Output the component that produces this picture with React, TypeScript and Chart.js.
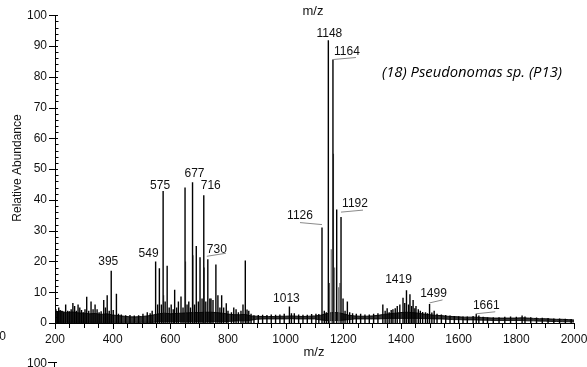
import React, { useEffect, useRef } from "react";
import { Chart, registerables } from "chart.js";

Chart.register(...registerables);

// ---------- data ----------
const noiseMz = [
  200, 220, 240, 260, 280, 300, 320, 340, 360, 380, 400, 420, 440, 460, 480, 500, 520, 540,
  560, 580, 600, 620, 640, 660, 680, 700, 720, 740, 760, 780, 800, 820, 840, 860, 880,
  900, 920, 940, 960, 980, 1000, 1020, 1040, 1060, 1080, 1100,
  1120, 1140, 1160, 1180, 1200, 1220, 1240,
  1260, 1280, 1300, 1320, 1340, 1360, 1380, 1400, 1420, 1440, 1460, 1480, 1500, 1520, 1540,
  1560, 1580, 1600, 1620, 1640, 1660, 1680, 1700,
  1720, 1740, 1760, 1780, 1800, 1820, 1840, 1860, 1880, 1900, 1920, 1940, 1960, 1980, 2000,
];
const noiseHigh = [
  3.6, 3.8, 3.4, 3.6, 3.3, 3.2, 3.0, 3.1, 2.8, 3.0, 2.6, 2.4, 2.2, 2.0, 2.0, 2.1, 2.3, 2.6,
  3.0, 3.2, 3.0, 3.1, 3.2, 3.3, 3.4, 3.4, 3.5, 3.5, 3.4, 3.2, 2.9, 2.7, 2.7, 2.8, 2.3,
  2.2, 2.1, 2.1, 2.1, 2.2, 2.2, 2.3, 2.2, 2.1, 2.2, 2.3,
  2.5, 3.0, 3.4, 3.4, 3.0, 2.5, 2.3,
  2.2, 2.2, 2.3, 2.5, 2.8, 3.0, 3.2, 3.4, 3.5, 3.4, 3.2, 2.9, 2.7, 2.5, 2.4,
  2.2, 2.1, 2.0, 1.9, 1.9, 1.9, 1.8, 1.7,
  1.6, 1.6, 1.6, 1.6, 1.6, 1.7, 1.6, 1.5, 1.4, 1.4, 1.3, 1.2, 1.2, 1.1, 1.0,
];
const noiseLow = [
  0.2, 0.2, 0.2, 0.2, 0.2, 0.2, 0.2, 0.2, 0.2, 0.2, 0.2, 0.2, 0.2, 0.2, 0.2, 0.2, 0.2, 0.2,
  0.4, 0.4, 0.4, 0.4, 0.4, 0.4, 0.4, 0.4, 0.4, 0.4, 0.4, 0.4, 0.5, 0.6, 0.7, 0.7, 0.9,
  1.2, 1.3, 1.3, 1.3, 1.3, 1.3, 1.4, 1.3, 1.3, 1.3, 1.3,
  1.0, 0.8, 0.8, 0.8, 0.9, 1.1, 1.3,
  1.3, 1.3, 1.3, 1.3, 1.4, 1.5, 1.5, 1.5, 1.5, 1.5, 1.5, 1.4, 1.4, 1.3, 1.3,
  1.2, 1.1, 1.1, 1.0, 1.0, 1.0, 0.9, 0.9,
  0.8, 0.8, 0.8, 0.8, 0.8, 0.8, 0.7, 0.7, 0.6, 0.6, 0.5, 0.5, 0.4, 0.4, 0.3,
];

const peakMz = [
  203, 208, 213, 218, 224, 230, 237, 244, 250, 256, 262, 268, 274, 280, 286, 292, 298, 304,
  310, 317, 325, 332, 339, 346, 353, 360, 369, 375, 381, 388, 395, 402, 413, 420, 430, 445,
  460, 475, 490, 505, 520, 530, 537,
  549, 556, 562, 569, 575, 582, 589, 596, 603, 610, 615, 622, 628, 637, 644, 651, 658, 664,
  670, 677, 684, 690, 697, 703, 710, 716, 723, 730, 737, 741, 748, 758, 765, 772, 778, 785,
  794, 800, 812, 820, 828, 836, 845, 852, 860, 866, 872, 880, 890,
  905, 920, 935, 950, 965, 980, 995, 1013, 1020, 1030, 1045, 1060, 1075, 1090, 1105, 1115,
  1126, 1134, 1141, 1148, 1164, 1177, 1192, 1199, 1206, 1214, 1222, 1232, 1245, 1260, 1275,
  1290, 1305, 1320, 1337, 1345, 1352, 1359, 1366, 1372, 1380, 1387, 1396, 1407, 1413, 1419,
  1426, 1431, 1437, 1442, 1448, 1452, 1460, 1467, 1475, 1485, 1492, 1499, 1507, 1515, 1525,
  1540, 1555, 1570, 1585, 1600, 1615, 1630, 1650, 1661, 1670, 1685, 1700, 1720, 1740, 1760,
  1780, 1800, 1820, 1830, 1850, 1870, 1890, 1910, 1930, 1950, 1970, 1990,
];
const peakIntensity = [
  4.5, 3.8, 5.0, 4.2, 4.0, 3.5, 6.0, 4.0, 3.8, 4.5, 6.5, 5.5, 4.0, 6.0, 5.0, 4.2, 3.5, 4.5,
  8.5, 4.0, 7.0, 4.5, 6.0, 4.5, 3.5, 3.8, 7.5, 5.0, 9.0, 4.0, 17.0, 4.2, 9.5, 3.0, 2.8, 2.5,
  2.6, 2.4, 2.5, 3.0, 3.5, 3.2, 4.0,
  20.0, 6.0, 17.8, 6.0, 42.9, 7.0, 18.6, 5.0, 6.0, 4.5, 10.8, 5.0, 7.0, 8.6, 5.0, 44.0, 6.0, 7.0,
  5.0, 45.7, 6.0, 25.0, 7.0, 21.4, 8.0, 41.5, 7.0, 20.7, 8.0, 8.0, 7.5, 19.0, 9.0, 5.0, 9.0, 5.0,
  6.4, 4.0, 3.5, 5.0, 4.5, 3.5, 4.0, 6.0, 20.3, 4.4, 4.0, 3.0, 2.5,
  2.6, 2.7, 2.6, 2.8, 2.7, 2.8, 3.0, 5.4, 3.2, 3.2, 2.8, 2.7, 2.7, 2.9, 3.0, 2.9,
  31.0, 4.0, 3.5, 91.9, 85.6, 36.9, 34.4, 8.0, 4.0, 7.0, 3.5, 3.2, 3.0, 3.0, 2.8,
  2.8, 3.0, 3.2, 6.0, 4.0, 4.8, 3.5, 4.2, 4.5, 4.8, 5.5, 6.0, 8.2, 6.5, 10.6,
  6.0, 9.3, 5.5, 7.5, 4.8, 5.5, 4.5, 4.0, 3.6, 3.5, 3.2, 6.2, 3.4, 4.0, 3.0,
  2.8, 2.6, 2.4, 2.3, 2.2, 2.1, 2.1, 2.3, 3.0, 2.4, 2.0, 1.9, 1.9, 1.9, 2.0,
  2.1, 2.0, 2.4, 2.1, 1.9, 1.8, 1.7, 1.6, 1.5, 1.5, 1.4, 1.3,
];

// lower, overlapping components (drawn grey)
const shoulderMz = [577, 653, 679, 718, 1152, 1158, 1166, 1170, 1184, 1188];
const shoulderIntensity = [9, 20, 22, 18, 13, 24, 55, 18, 11.6, 13];

const labelMz = [395, 549, 575, 677, 716, 730, 1013, 1126, 1148, 1164, 1192, 1419, 1499, 1661];

const xTickValues = [200, 400, 600, 800, 1000, 1200, 1400, 1600, 1800, 2000];
const yTickValues = [0, 10, 20, 30, 40, 50, 60, 70, 80, 90, 100];

const titleText = "(18) Pseudonomas sp. (P13)";
const yAxisTitle = "Relative Abundance";
const xAxisTitle = "m/z";

// ---------- styles / label placement (pixel offsets from peak top) ----------
const labelPlacement: Record<number, { dx: number; dy: number; leader?: number[] }> = {
  395: { dx: -3, dy: -9 },
  549: { dx: -7, dy: -8 },
  575: { dx: -3, dy: -5 },
  677: { dx: 2, dy: -9 },
  716: { dx: 7, dy: -10 },
  730: { dx: 9, dy: -10, leader: [-1, -3, 18, -6] },
  1013: { dx: -3, dy: -8 },
  1126: { dx: -22, dy: -12, leader: [-22, -5, 0, -3] },
  1148: { dx: 1, dy: -6 },
  1164: { dx: 14, dy: -8, leader: [0, 0, 23, -2] },
  1192: { dx: 14, dy: -13, leader: [0, -5, 22, -7] },
  1419: { dx: -8, dy: -11 },
  1499: { dx: 4, dy: -10, leader: [0, -1, 13, -4] },
  1661: { dx: 10, dy: -8, leader: [0, 0, 19, -2] },
};

const SANS = '"Liberation Sans", Arial, Helvetica, sans-serif';

const decorPlugin = {
  id: "decor",
  afterDraw(chart: any) {
    const { ctx, scales } = chart;
    const xs = scales.x;
    const ys = scales.y;
    const left = chart.chartArea.left;
    const bottom = chart.chartArea.bottom;
    ctx.save();
    ctx.strokeStyle = "#000";
    ctx.lineWidth = 1;
    // y ticks
    for (let v = 0; v <= 100; v += 2) {
      const py = Math.round(ys.getPixelForValue(v)) + 0.5;
      ctx.beginPath();
      if (v % 10 === 0) {
        ctx.moveTo(left - 6, py);
        ctx.lineTo(left + 3, py);
      } else {
        ctx.moveTo(left, py);
        ctx.lineTo(left + 3.5, py);
      }
      ctx.stroke();
    }
    // x ticks
    for (let v = 200; v <= 2000; v += 50) {
      const px = Math.round(xs.getPixelForValue(v)) + 0.5;
      ctx.beginPath();
      ctx.moveTo(px, bottom);
      ctx.lineTo(px, bottom + (v % 200 === 0 ? 6 : 5));
      ctx.stroke();
    }

    // peak labels
    ctx.font = `12px ${SANS}`;
    ctx.fillStyle = "#111";
    ctx.textAlign = "center";
    ctx.textBaseline = "middle";
    labelMz.forEach((m) => {
      const i = peakMz.indexOf(m);
      const px = xs.getPixelForValue(m);
      const py = ys.getPixelForValue(peakIntensity[i]);
      const s = labelPlacement[m];
      if (s.leader) {
        ctx.strokeStyle = "#8a8a8a";
        ctx.lineWidth = 1;
        ctx.beginPath();
        ctx.moveTo(px + s.leader[0], py + s.leader[1]);
        ctx.lineTo(px + s.leader[2], py + s.leader[3]);
        ctx.stroke();
      }
      ctx.fillText(String(m), px + s.dx, py + s.dy);
    });

    // axis titles
    ctx.font = `13px ${SANS}`;
    ctx.fillStyle = "#111";
    ctx.fillText(xAxisTitle, 314, 352);
    ctx.fillText(xAxisTitle, 313, 11);
    ctx.save();
    ctx.translate(18, 168);
    ctx.rotate(-Math.PI / 2);
    ctx.font = `12px ${SANS}`;
    ctx.fillText(yAxisTitle, 0, 0);
    ctx.restore();

    // neighbouring panel fragments
    ctx.font = `12px ${SANS}`;
    ctx.textAlign = "right";
    ctx.fillText("2000", 6, 337);
    ctx.fillText("100", 47, 364);
    ctx.strokeStyle = "#000";
    ctx.beginPath();
    ctx.moveTo(48, 362.5);
    ctx.lineTo(57, 362.5);
    ctx.moveTo(54.5, 362);
    ctx.lineTo(54.5, 367);
    ctx.stroke();

    // title
    ctx.textAlign = "center";
    ctx.font = `italic 14.8px "Open Sans", sans-serif`;
    ctx.fillStyle = "#000";
    ctx.fillText(titleText, 472, 73);
    ctx.restore();
  },
};

export default function App() {
  const ref = useRef<HTMLCanvasElement | null>(null);
  useEffect(() => {
    if (!ref.current) return;
    const chart = new Chart(ref.current, {
      type: "bar",
      data: {
        datasets: [
          {
            type: "line",
            data: noiseMz.map((m, i) => ({ x: m, y: noiseLow[i] })),
            borderColor: "#000",
            borderWidth: 0.8,
            pointRadius: 0,
            fill: false,
            order: 3,
          } as any,
          {
            type: "line",
            data: noiseMz.map((m, i) => ({ x: m, y: noiseHigh[i] })),
            borderColor: "#000",
            borderWidth: 0.9,
            pointRadius: 0,
            fill: "-1",
            backgroundColor: "rgba(10,10,10,0.82)",
            order: 3,
          } as any,
          {
            type: "bar",
            data: shoulderMz.map((m, i) => ({ x: m, y: shoulderIntensity[i] })),
            backgroundColor: "#5a5a5a",
            barThickness: 1,
            inflateAmount: 0,
            grouped: false,
            order: 2,
          } as any,
          {
            type: "bar",
            data: peakMz.map((m, i) => ({ x: m, y: peakIntensity[i] })),
            backgroundColor: "#000",
            barThickness: 1.4,
            inflateAmount: 0,
            grouped: false,
            order: 1,
          } as any,
        ],
      },
      options: {
        animation: false,
        responsive: false,
        layout: { padding: { left: 0, right: 0, top: 15, bottom: 0 } },
        plugins: { legend: { display: false }, tooltip: { enabled: false } },
        scales: {
          x: {
            type: "linear",
            min: 200,
            max: 2000,
            offset: false,
            grid: { display: false, drawTicks: false },
            border: { display: true, color: "#000", width: 1 },
            afterFit: (s: any) => {
              s.height = 44;
              s.paddingRight = 13;
            },
            afterBuildTicks: (s: any) => {
              s.ticks = xTickValues.map((v) => ({ value: v }));
            },
            ticks: {
              autoSkip: false,
              maxRotation: 0,
              padding: 9,
              color: "#111",
              font: { family: SANS, size: 12 },
              callback: (v: any) => String(v),
            },
          },
          y: {
            type: "linear",
            min: 0,
            max: 100,
            grid: { display: false, drawTicks: false },
            border: { display: true, color: "#000", width: 1 },
            afterFit: (s: any) => {
              s.width = 55;
            },
            afterBuildTicks: (s: any) => {
              s.ticks = yTickValues.map((v) => ({ value: v }));
            },
            ticks: {
              padding: 8,
              color: "#111",
              font: { family: SANS, size: 12 },
              callback: (v: any) => String(v),
            },
          },
        },
      } as any,
      plugins: [decorPlugin],
    });
    return () => chart.destroy();
  }, []);
  return (
    <div style={{ position: "fixed", left: 0, top: 0, width: 587, height: 367, background: "#fff" }}>
      <canvas ref={ref} width={587} height={367} style={{ width: 587, height: 367 }} />
    </div>
  );
}
